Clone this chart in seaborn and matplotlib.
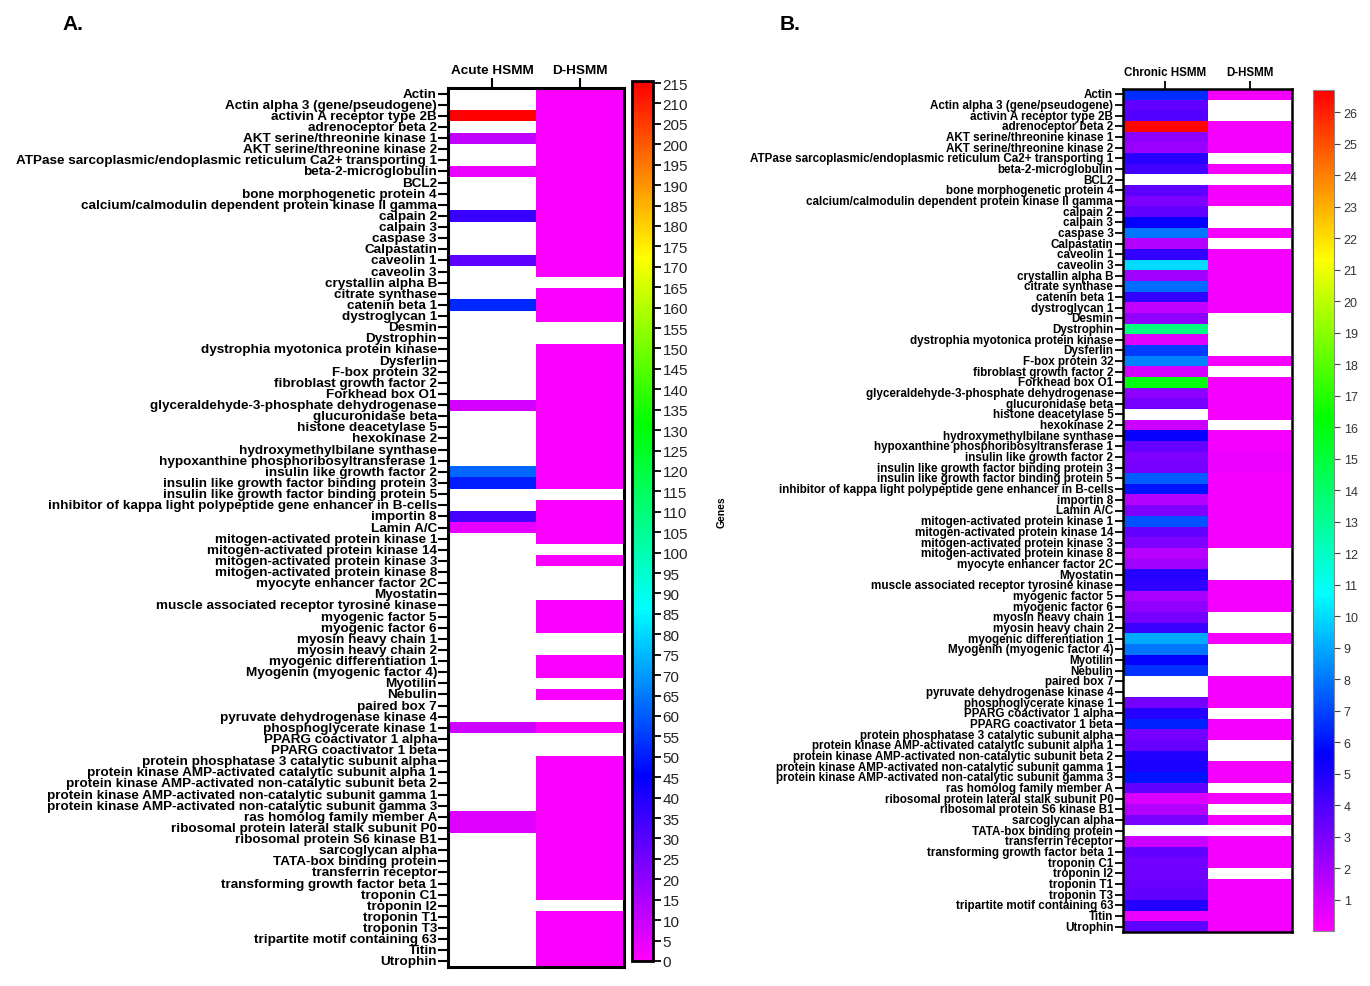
import numpy as np
import pandas as pd
import matplotlib
matplotlib.use('Agg')
import matplotlib.pyplot as plt
import seaborn as sns
from matplotlib.colors import LinearSegmentedColormap

sns.set_theme(style='white')
plt.rcParams['font.family'] = ['Liberation Sans', 'DejaVu Sans']
plt.rcParams['text.color'] = 'black'
plt.rcParams['xtick.color'] = 'black'
plt.rcParams['ytick.color'] = 'black'

nan = np.nan

genes = [
    "Actin", "Actin alpha 3 (gene/pseudogene)", "activin A receptor type 2B",
    "adrenoceptor beta 2", "AKT serine/threonine kinase 1", "AKT serine/threonine kinase 2",
    "ATPase sarcoplasmic/endoplasmic reticulum Ca2+ transporting 1", "beta-2-microglobulin",
    "BCL2", "bone morphogenetic protein 4", "calcium/calmodulin dependent protein kinase II gamma",
    "calpain 2", "calpain 3", "caspase 3", "Calpastatin", "caveolin 1", "caveolin 3",
    "crystallin alpha B", "citrate synthase", "catenin beta 1", "dystroglycan 1", "Desmin",
    "Dystrophin", "dystrophia myotonica protein kinase", "Dysferlin", "F-box protein 32",
    "fibroblast growth factor 2", "Forkhead box O1", "glyceraldehyde-3-phosphate dehydrogenase",
    "glucuronidase beta", "histone deacetylase 5", "hexokinase 2", "hydroxymethylbilane synthase",
    "hypoxanthine phosphoribosyltransferase 1", "insulin like growth factor 2",
    "insulin like growth factor binding protein 3", "insulin like growth factor binding protein 5",
    "inhibitor of kappa light polypeptide gene enhancer in B-cells", "importin 8", "Lamin A/C",
    "mitogen-activated protein kinase 1", "mitogen-activated protein kinase 14",
    "mitogen-activated protein kinase 3", "mitogen-activated protein kinase 8",
    "myocyte enhancer factor 2C", "Myostatin", "muscle associated receptor tyrosine kinase",
    "myogenic factor 5", "myogenic factor 6", "myosin heavy chain 1", "myosin heavy chain 2",
    "myogenic differentiation 1", "Myogenin (myogenic factor 4)", "Myotilin", "Nebulin",
    "paired box 7", "pyruvate dehydrogenase kinase 4", "phosphoglycerate kinase 1",
    "PPARG coactivator 1 alpha", "PPARG coactivator 1 beta",
    "protein phosphatase 3 catalytic subunit alpha",
    "protein kinase AMP-activated catalytic subunit alpha 1",
    "protein kinase AMP-activated non-catalytic subunit beta 2",
    "protein kinase AMP-activated non-catalytic subunit gamma 1",
    "protein kinase AMP-activated non-catalytic subunit gamma 3",
    "ras homolog family member A", "ribosomal protein lateral stalk subunit P0",
    "ribosomal protein S6 kinase B1", "sarcoglycan alpha", "TATA-box binding protein",
    "transferrin receptor", "transforming growth factor beta 1", "troponin C1", "troponin I2",
    "troponin T1", "troponin T3", "tripartite motif containing 63", "Titin", "Utrophin",
]

# Panel A values
acute_hsmm = [
    nan, nan, 215, nan, 11, nan, nan, 4, nan, nan,
    nan, 36, nan, nan, nan, 29, nan, nan, nan, 52,
    nan, nan, nan, nan, nan, nan, nan, nan, 8, nan,
    nan, nan, nan, nan, 62, 50, nan, nan, 33, 4.5,
    nan, nan, nan, nan, nan, nan, nan, nan, nan, nan,
    nan, nan, nan, nan, nan, nan, nan, 9.5, nan, nan,
    nan, nan, nan, nan, nan, 6, 6, nan, nan, nan,
    nan, nan, nan, nan, nan, nan, nan, nan, nan,
]
dhsmm_a = [
    1, 1, 1, 1, 1, 1, 1, 1, 1, 1,
    1, 1, 1, 1, 1, 1, 1, nan, 1, 1,
    1, nan, nan, 1, 1, 1, 1, 1, 1, 1,
    1, 1, 1, 1, 1, 1, nan, 1, 1, 1,
    1, nan, 1, nan, nan, nan, 1, 1, 1, nan,
    nan, 1, 1, nan, 1, nan, nan, 1, nan, nan,
    1, 1, 1, 1, 1, 1, 1, 1, 1, 1,
    1, 1, 1, nan, 1, 1, 1, 1, 1,
]

# Panel B values
chronic_hsmm = [
    6.5, 3.5, 3.8, 26.5, 2.6, 2.2, 4.7, 4.2, nan, 3.6,
    2.9, 3.5, 5.6, 8.0, 1.7, 4.5, 10.0, 2.1, 7.8, 4.5,
    1.4, 2.4, 13.5, 0.8, 6.8, 8.2, 1.0, 16.0, 2.6, 3.1,
    nan, 1.2, 5.5, 3.4, 2.9, 3.1, 7.5, 6.0, 1.7, 2.9,
    7.2, 3.5, 2.9, 1.6, 2.1, 4.9, 4.6, 1.9, 2.4, 3.1,
    4.4, 9.0, 8.0, 5.6, 6.6, nan, nan, 3.1, 4.9, 6.3,
    3.1, 3.4, 5.0, 5.1, 6.0, 3.5, 0.9, 1.7, 3.0, nan,
    1.2, 3.5, 3.2, 3.2, 3.4, 3.5, 4.8, 0.5, 3.6,
]
dhsmm_b = [
    0.3, nan, nan, 0.3, 0.3, 0.3, nan, 0.3, nan, 0.3,
    0.3, nan, nan, 0.3, nan, 0.3, 0.3, 0.3, 0.3, 0.3,
    0.3, nan, nan, nan, nan, 0.3, nan, 0.3, 0.3, 0.3,
    0.3, nan, 0.3, 0.3, 0.5, 0.5, 0.3, 0.3, 0.3, 0.3,
    0.3, 0.3, 0.3, nan, nan, nan, 0.3, 0.3, 0.3, nan,
    nan, 0.3, nan, nan, nan, 0.3, 0.3, 0.3, nan, 0.3,
    0.3, nan, nan, 0.3, 0.3, nan, 0.3, nan, 0.3, nan,
    0.3, 0.3, 0.3, nan, 0.3, 0.3, 0.3, 0.3, 0.3,
]

cmap = LinearSegmentedColormap.from_list(
    'prism_rainbow',
    [(0.0, '#FF00FF'), (0.21, '#0000FF'), (0.40, '#00FFFF'),
     (0.61, '#00FF00'), (0.80, '#FFFF00'), (1.0, '#FF0000')])

W, H = 1370, 987
fig = plt.figure(figsize=(W / 100, H / 100), dpi=100)


def box(x0, x1, ytop, ybot):
    return [x0 / W, (H - ybot) / H, (x1 - x0) / W, (ybot - ytop) / H]


# ---------------- Panel A ----------------
axA = fig.add_axes(box(448, 624, 89, 968))
caxA = fig.add_axes(box(632, 653, 82, 962))
dfA = pd.DataFrame({'Acute HSMM': acute_hsmm, 'D-HSMM': dhsmm_a}, index=genes)
sns.heatmap(dfA, ax=axA, cbar_ax=caxA, cmap=cmap, vmin=0, vmax=215.5,
            yticklabels=True, xticklabels=True)
axA.set_ylabel('')
axA.xaxis.tick_top()
axA.tick_params(axis='x', top=True, bottom=False, length=7, width=1.5,
                color='black', labelcolor='black', pad=2)
axA.tick_params(axis='y', left=True, length=7, width=1.5, color='black',
                labelcolor='black', pad=1)
for t in axA.get_xticklabels():
    t.set_fontsize(9.7); t.set_fontweight('bold'); t.set_rotation(0)
for t in axA.get_yticklabels():
    t.set_fontsize(9.7); t.set_fontweight('bold'); t.set_rotation(0)
for s in axA.spines.values():
    s.set_visible(True); s.set_linewidth(2.2); s.set_color('black')

cbA = axA.collections[0].colorbar
cbA.set_ticks(list(range(0, 216, 5)))
cbA.ax.tick_params(labelsize=11, length=6, width=1.3, right=True, color='black',
                   labelcolor='#222222', pad=1)
cbA.outline.set_linewidth(2)
cbA.outline.set_edgecolor('black')

# ---------------- Panel B ----------------
axB = fig.add_axes(box(1123, 1292, 90, 933))
caxB = fig.add_axes(box(1313, 1334, 91, 932))
dfB = pd.DataFrame({'Chronic HSMM': chronic_hsmm, 'D-HSMM': dhsmm_b}, index=genes)
sns.heatmap(dfB, ax=axB, cbar_ax=caxB, cmap=cmap, vmin=0, vmax=26.7,
            yticklabels=True, xticklabels=True)
axB.set_ylabel('')
axB.xaxis.tick_top()
axB.tick_params(axis='x', top=True, bottom=False, length=6, width=1.3,
                color='black', labelcolor='black', pad=2)
axB.tick_params(axis='y', left=True, length=6, width=1.3, color='black',
                labelcolor='black', pad=1)
for t in axB.get_xticklabels():
    t.set_fontsize(8.3); t.set_fontweight('bold'); t.set_rotation(0)
for t in axB.get_yticklabels():
    t.set_fontsize(8.4); t.set_fontweight('bold'); t.set_rotation(0)
for s in axB.spines.values():
    s.set_visible(True); s.set_linewidth(1.8); s.set_color('black')

cbB = axB.collections[0].colorbar
cbB.set_ticks(list(range(1, 27)))
cbB.ax.tick_params(labelsize=9, length=4, width=0.8, right=True, color='#444444',
                   labelcolor='#333333', pad=3)
cbB.outline.set_linewidth(0.8)
cbB.outline.set_edgecolor('#888888')

fig.text(722 / W, 1 - 512 / H, 'Genes', rotation=90, ha='center', va='center',
         fontsize=7.5, fontweight='bold')
fig.text(62 / W, 1 - 25 / H, 'A.', ha='left', va='center', fontsize=15, fontweight='bold')
fig.text(780 / W, 1 - 25 / H, 'B.', ha='left', va='center', fontsize=15, fontweight='bold')

fig.savefig('out.png', dpi=100)
